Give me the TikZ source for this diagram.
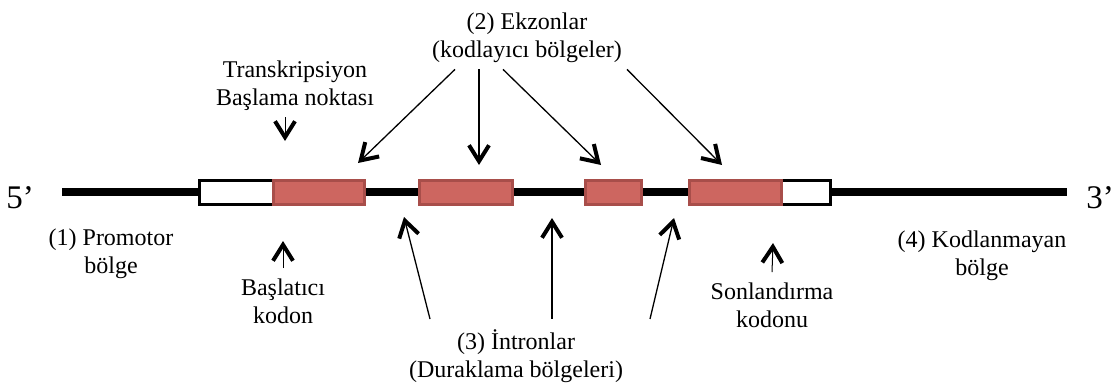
\documentclass[tikz,border=0pt]{standalone}
\usepackage{fontspec}
\setmainfont{Liberation Serif}
\usetikzlibrary{arrows.meta}
\definecolor{exonred}{RGB}{205,102,96}
\definecolor{exonedge}{RGB}{168,78,74}

\begin{document}
\begin{tikzpicture}[
  x=1pt, y=-1pt,
  lbl/.style={align=center, anchor=base, inner sep=0pt, font=\fontsize{24}{28}\selectfont},
  prime/.style={anchor=base, inner sep=0pt, font=\fontsize{33}{33}\selectfont},
  exon/.style={draw=exonedge, fill=exonred, line width=3pt, minimum height=24pt, inner sep=0pt},
  utr/.style={draw=black, fill=white, line width=3pt, minimum height=24pt, inner sep=0pt},
  arr/.style={-{Straight Barb[length=16pt, width=20pt, line width=4pt]}, line width=1.3pt},
  tick/.style={-{Straight Barb[length=16pt, width=20pt, line width=4pt]}, line width=1pt}
]
\useasboundingbox (0,0) rectangle (1115,385);

% strand with its ends
\node[prime] (p5) at (20,208) {5’};
\node[prime] (p3) at (1100,208) {3’};
\coordinate (s5) at (62,192);
\coordinate (s3) at (1067,192);
\draw[line width=7.5pt] (s5) -- (s3);

% untranslated ends, then the exons on top
\node[utr, minimum width=92pt] (utrL) at (245.5,192) {};
\node[utr, minimum width=91pt] (utrR) at (785,192) {};
\node[exon, minimum width=91pt] (ex1) at (319,192) {};
\node[exon, minimum width=93pt] (ex2) at (466,192) {};
\node[exon, minimum width=56pt] (ex3) at (613.5,192) {};
\node[exon, minimum width=92pt] (ex4) at (735.5,192) {};

% labels (base = last line)
\node[lbl] (ekz) at (527,58) {(2) Ekzonlar\\(kodlayıcı bölgeler)};
\node[lbl] (tss) at (295,106) {Transkripsiyon\\Başlama noktası};
\node[lbl] (prom) at (111,273) {(1) Promotor\\bölge};
\node[lbl] (start) at (283,323) {Başlatıcı\\kodon};
\node[lbl] (intr) at (516,377) {(3) İntronlar\\(Duraklama bölgeleri)};
\node[lbl] (stop) at (772,327) {Sonlandırma\\kodonu};
\node[lbl] (ncr) at (982,275) {(4) Kodlanmayan\\bölge};

% arrow tips
\coordinate (a1) at (358,163);
\coordinate (a2) at (479,165);
\coordinate (a3) at (601,165);
\coordinate (a4) at (722,165);
\coordinate (b1) at (404,217);
\coordinate (b2) at (552,218);
\coordinate (b3) at (674,218);
\coordinate (tssTip) at (285,141);
\coordinate (startTip) at (283,241);
\coordinate (stopTip) at (773,243);

% exons
\draw[arr] ([xshift=-72pt, yshift=-6pt]ekz.south) -- (a1);
\draw[arr] ([xshift=-48pt, yshift=-6pt]ekz.south) -- (a2);
\draw[arr] ([xshift=-24pt, yshift=-6pt]ekz.south) -- (a3);
\draw[arr] ([xshift=100pt, yshift=-6pt]ekz.south) -- (a4);

% introns
\draw[arr] ([xshift=-86pt, yshift=10pt]intr.north) -- (b1);
\draw[arr] ([xshift=36pt, yshift=10pt]intr.north) -- (b2);
\draw[arr] ([xshift=134pt, yshift=10pt]intr.north) -- (b3);

% short markers
\draw[tick] ([xshift=-10pt, yshift=-6pt]tss.south) -- (tssTip);
\draw[tick] ([yshift=10pt]start.north) -- (startTip);
\draw[tick] ([yshift=10pt]stop.north) -- (stopTip);
\end{tikzpicture}
\end{document}
